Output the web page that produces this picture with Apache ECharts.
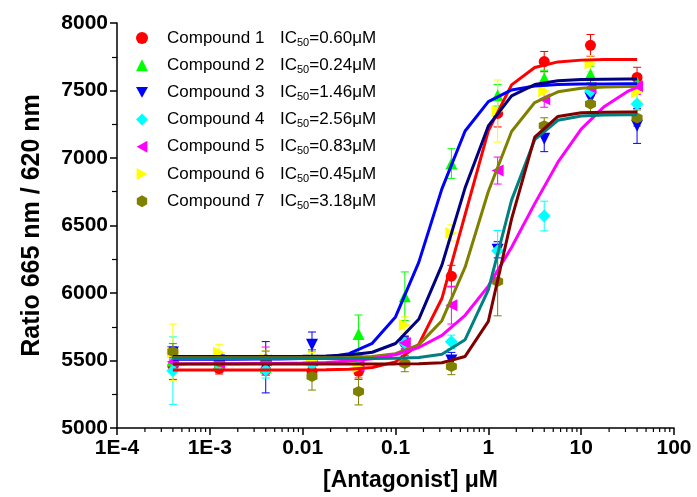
<!DOCTYPE html>
<html>
<head>
<meta charset="utf-8">
<script src="https://cdn.jsdelivr.net/npm/echarts@6/dist/echarts.min.js"></script>
<style>html,body{margin:0;padding:0;background:#fff}#c{width:697px;height:497px}</style>
</head>
<body>
<div id="c"></div>
<script>
// ---- data ----
const conc = [0.0004, 0.00126, 0.004, 0.0126, 0.04, 0.126, 0.4, 1.26, 4, 12.6, 40];
const names = ['Compound 1','Compound 2','Compound 3','Compound 4','Compound 5','Compound 6','Compound 7'];
const ic50 = ['0.60','0.24','1.46','2.56','0.83','0.45','3.18'];
const c1 = [5460, 5440, 5430, 5420, 5420, 5630, 6125, 7330, 7714, 7835, 7597];
const c1e = [100, 40, 40, 50, 60, 50, 80, 100, 75, 80, 75];
const c2 = [5500, 5480, 5450, 5510, 5697, 5976, 6959, 7465, 7590, 7620, 7560];
const c2e = [60, 50, 60, 60, 140, 180, 110, 80, 60, 60, 60];
const c3 = [5560, 5500, 5450, 5616, 5480, 5620, 5500, 6320, 7142, 7443, 7238];
const c3e = [40, 50, 190, 95, 60, 60, 60, 60, 95, 60, 130];
const c4 = [5425, 5470, 5430, 5470, 5480, 5630, 5638, 6313, 6570, 7494, 7400];
const c4e = [250, 60, 60, 60, 40, 40, 50, 150, 110, 80, 80];
const c5 = [5490, 5480, 5500, 5500, 5460, 5630, 5910, 6907, 7436, 7520, 7531];
const c5e = [60, 60, 100, 80, 60, 40, 140, 100, 60, 60, 60];
const c6 = [5560, 5560, 5510, 5500, 5450, 5763, 6445, 7348, 7494, 7700, 7487];
const c6e = [210, 60, 60, 60, 60, 60, 60, 230, 60, 60, 60];
const c7 = [5565, 5490, 5510, 5381, 5271, 5477, 5455, 6086, 7238, 7400, 7296];
const c7e = [60, 60, 60, 100, 100, 60, 60, 255, 60, 60, 60];

const curveX = [0.0004, 0.000562, 0.001, 0.00178, 0.00316, 0.00562, 0.01, 0.0178, 0.0316, 0.0562, 0.1, 0.178, 0.316, 0.562, 1, 1.78, 3.16, 5.62, 10, 17.8, 31.6, 40];
const fitRed    = [5430,5430,5430,5430,5430,5430,5430,5432,5435,5448,5490,5619,5959,6580,7201,7542,7670,7712,7725,7729,7730,7730];
const fitBlue   = [5510,5510,5510,5510,5511,5512,5515,5524,5551,5627,5823,6227,6771,7200,7418,7504,7534,7545,7548,7549,7550,7550];
const fitNavy   = [5530,5530,5530,5530,5530,5530,5531,5533,5540,5561,5626,5805,6206,6779,7237,7460,7544,7572,7581,7584,7585,7585];
const fitOlive  = [5520,5520,5520,5520,5520,5520,5520,5521,5523,5530,5551,5616,5795,6191,6752,7196,7411,7490,7517,7526,7529,7530];
const fitMagenta= [5475,5475,5476,5476,5477,5478,5481,5486,5496,5513,5543,5596,5686,5835,6051,6339,6662,6969,7214,7382,7493,7523];
const fitTeal   = [5515,5515,5515,5515,5515,5515,5515,5515,5515,5515,5516,5522,5546,5654,6024,6688,7136,7279,7311,7318,7320,7320];
const fitMaroon = [5475,5475,5475,5475,5475,5475,5475,5475,5475,5475,5475,5476,5483,5530,5790,6549,7154,7308,7335,7339,7340,7340];

const xTickLabels = {'0.0001':'1E-4','0.001':'1E-3','0.01':'0.01','0.1':'0.1','1':'1','10':'10','100':'100'};
const minorMult = [2,3,4,5,6,7,8,9];
const decades = [0.0001, 0.001, 0.01, 0.1, 1, 10];

// ---- styles ----
const FONT = "'Liberation Sans', Arial, sans-serif";
const markColors = ['#FF0000','#00FF00','#0000FF','#00FFFF','#FF00FF','#FFFF00','#808000'];
const hexPath = 'path://M0,-10 L8.66,-5 L8.66,5 L0,10 L-8.66,5 L-8.66,-5 Z';
const triDown = 'path://M0,0 L10,0 L5,9 Z';
const triLeft = 'path://M9,0 L9,10 L0,5 Z';
const triRight = 'path://M0,0 L0,10 L9,5 Z';
const symbols = ['circle','triangle',triDown,'diamond',triLeft,triRight,hexPath];
const sizes = [11,12,12,13,12,12,11];
const vals = [c1,c2,c3,c4,c5,c6,c7];
const errs = [c1e,c2e,c3e,c4e,c5e,c6e,c7e];
const fits = [
  {d: fitRed, c:'#FF0000'}, {d: fitBlue, c:'#0000FF'}, {d: fitNavy, c:'#000080'},
  {d: fitOlive, c:'#808000'}, {d: fitMagenta, c:'#FF00FF'}, {d: fitTeal, c:'#008080'},
  {d: fitMaroon, c:'#800000'}
];

const series = [];
vals.forEach((v, i) => {
  series.push({
    type: 'custom', name: 'err' + i, clip: false, z: 2,
    data: conc.map((x, j) => [x, v[j] - errs[i][j], v[j] + errs[i][j]]),
    renderItem: (params, api) => {
      const lo = api.coord([api.value(0), api.value(1)]);
      const hi = api.coord([api.value(0), api.value(2)]);
      const st = {stroke: markColors[i], lineWidth: 1};
      return {type: 'group', children: [
        {type:'line', shape:{x1:lo[0],y1:lo[1],x2:hi[0],y2:hi[1]}, style: st},
        {type:'line', shape:{x1:lo[0]-4,y1:lo[1],x2:lo[0]+4,y2:lo[1]}, style: st},
        {type:'line', shape:{x1:hi[0]-4,y1:hi[1],x2:hi[0]+4,y2:hi[1]}, style: st}
      ]};
    }
  });
  series.push({
    type: 'scatter', name: names[i], z: 3,
    symbol: symbols[i], symbolSize: sizes[i],
    itemStyle: {color: markColors[i], opacity: 1},
    data: conc.map((x, j) => [x, v[j]])
  });
});
fits.forEach((f, i) => {
  series.push({
    type: 'line', name: 'fit' + i, z: 4, showSymbol: false, symbol: 'none',
    lineStyle: {color: f.c, width: 3}, itemStyle: {color: f.c},
    data: curveX.map((x, j) => [x, f.d[j]])
  });
});
// minor ticks on the log x axis
const minorVals = [];
decades.forEach(d => minorMult.forEach(m => minorVals.push([d * m, 5000])));
series.push({
  type: 'custom', name: 'minor', clip: false, silent: true, z: 5,
  data: minorVals,
  renderItem: (params, api) => {
    const p = api.coord([api.value(0), api.value(1)]);
    return {type:'line', shape:{x1:p[0],y1:p[1],x2:p[0],y2:p[1]+4}, style:{stroke:'#000', lineWidth:1.2}};
  }
});

const chart = echarts.init(document.getElementById('c'), null, {renderer: 'canvas'});
chart.setOption({
  animation: false,
  backgroundColor: '#fff',
  grid: {left: 117, right: 23, top: 23, bottom: 65, containLabel: false},
  legend: {
    data: names,
    orient: 'vertical', left: 131, top: 23,
    itemWidth: 12, itemHeight: 12, itemGap: 7.2,
    formatter: (name) => '{p| }{a|' + name + '}{b|IC}{s|50}{b|=' + ic50[names.indexOf(name)] + 'μM}',
    textStyle: {
      fontFamily: FONT, fontSize: 17, color: '#000',
      rich: {
        p: {width: 14, fontSize: 17, lineHeight: 20},
        a: {width: 113, fontSize: 17, fontFamily: FONT, color: '#000', lineHeight: 20},
        b: {fontSize: 17, fontFamily: FONT, color: '#000', lineHeight: 20},
        s: {fontSize: 11, fontFamily: FONT, color: '#000', padding: [9, 0, 0, 0], lineHeight: 20}
      }
    }
  },
  xAxis: {
    type: 'log', logBase: 10, min: 0.0001, max: 100,
    name: '[Antagonist] μM', nameLocation: 'middle', nameGap: 41,
    nameTextStyle: {fontFamily: FONT, fontSize: 23, fontWeight: 'bold', color: '#000', padding: [0, 0, 0, 30]},
    axisLine: {lineStyle: {color: '#000', width: 1.5}},
    axisTick: {show: true, inside: false, length: 7, lineStyle: {color: '#000', width: 1.5}},
    minorTick: {show: false},
    splitLine: {show: false},
    axisLabel: {fontFamily: FONT, fontSize: 21, fontWeight: 'bold', color: '#000', margin: 10,
      formatter: v => xTickLabels[String(+v.toPrecision(6))] || ''}
  },
  yAxis: {
    type: 'value', min: 5000, max: 8000, interval: 500,
    name: 'Ratio 665 nm / 620 nm', nameLocation: 'middle', nameGap: 72,
    nameTextStyle: {fontFamily: FONT, fontSize: 25, fontWeight: 'bold', color: '#000'},
    axisLine: {show: true, lineStyle: {color: '#000', width: 1.5}},
    axisTick: {show: true, inside: false, length: 7, lineStyle: {color: '#000', width: 1.5}},
    minorTick: {show: true, splitNumber: 2, length: 5, lineStyle: {color: '#000', width: 1.2}},
    splitLine: {show: false},
    axisLabel: {fontFamily: FONT, fontSize: 21, fontWeight: 'bold', color: '#000', margin: 9,
      formatter: v => String(v)}
  },
  series: series
});
</script>
</body>
</html>
